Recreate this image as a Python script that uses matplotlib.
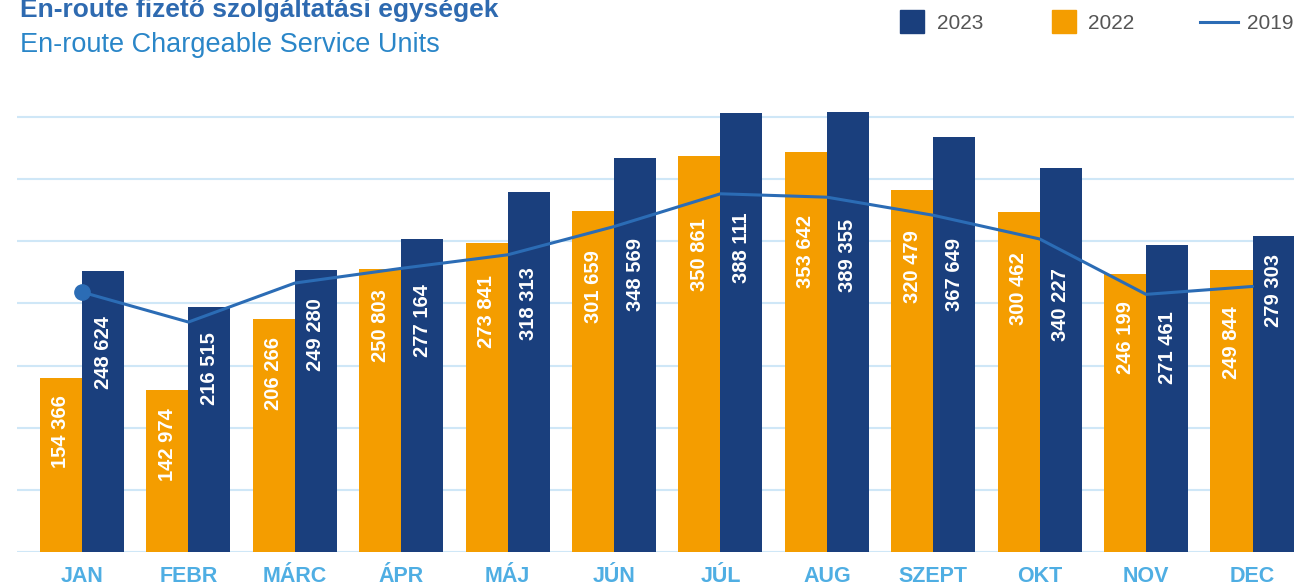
import numpy as np
import matplotlib.pyplot as plt
from matplotlib.patches import Rectangle
from matplotlib.lines import Line2D

# Data
months = ['JAN', 'FEBR', 'MÁRC', 'ÁPR', 'MÁJ', 'JÚN', 'JÚL', 'AUG', 'SZEPT', 'OKT', 'NOV', 'DEC']
units_2022 = [154366, 142974, 206266, 250803, 273841, 301659, 350861, 353642, 320479, 300462, 246199, 249844]
units_2023 = [248624, 216515, 249280, 277164, 318313, 348569, 388111, 389355, 367649, 340227, 271461, 279303]
units_2019 = [230000, 203500, 238000, 251000, 263000, 288000, 317000, 314000, 298000, 277000, 228000, 235000]

# Colours
NAVY = '#1A3F7D'
ORANGE = '#F49D00'
LINE = '#2B6CB5'
GRID = '#CFE7F7'
MONTH = '#4FAEE3'
narrow = ['Liberation Sans Narrow', 'Liberation Sans', 'DejaVu Sans']
sans = ['Liberation Sans', 'DejaVu Sans']

W, H = 1294, 588
fig = plt.figure(figsize=(W / 100, H / 100), dpi=100)
ax = fig.add_axes([17 / W, 36 / H, 1 - 17 / W, 452 / H])

x = np.arange(len(months))
bw = 0.395
ax.bar(x - bw / 2, units_2022, bw, color=ORANGE, zorder=2)
ax.bar(x + bw / 2, units_2023, bw, color=NAVY, zorder=2)
ax.plot(x, units_2019, color=LINE, lw=2.2, zorder=3, solid_capstyle='round')
ax.plot(x[:1], units_2019[:1], 'o', color=LINE, ms=11, zorder=4)

# value labels, kept below the 2019 line
for off, vals in ((-bw / 2, units_2022), (bw / 2, units_2023)):
    for xi, v in zip(x + off, vals):
        line_v = np.interp(xi, x, units_2019, left=np.inf, right=np.inf)
        ax.annotate(f'{v:,}'.replace(',', ' '), (xi, min(v, line_v)),
                    xytext=(0, -18), textcoords='offset pixels',
                    rotation=90, ha='center', va='top', color='white',
                    fontsize=14.5, fontweight='bold', family=narrow, zorder=5)

ax.set_xlim(-0.611, 11.39)
ax.set_ylim(0, 400000)
ax.set_yticks(np.arange(0, 400000, 55000))
ax.yaxis.grid(True, color=GRID, lw=1.5)
ax.set_axisbelow(True)
ax.tick_params(left=False, bottom=False, labelleft=False)
ax.set_xticks(x)
ax.set_xticklabels(months, fontsize=15.5, fontweight='bold', color=MONTH, family=narrow)
ax.tick_params(axis='x', pad=6.5)
for s in ax.spines.values():
    s.set_visible(False)

# titles
fig.text(20 / W, 1 - 17 / H, 'En-route fizető szolgáltatási egységek', va='baseline',
         fontsize=19, fontweight='bold', color='#2E6AB0', family=sans)
fig.text(20 / W, 1 - 52 / H, 'En-route Chargeable Service Units', va='baseline',
         fontsize=19.5, color='#2A86C8', family=sans)

# legend
fig.add_artist(Rectangle((900 / W, 1 - 33 / H), 24 / W, 23 / H, transform=fig.transFigure, color=NAVY))
fig.add_artist(Rectangle((1052 / W, 1 - 33 / H), 24 / W, 23 / H, transform=fig.transFigure, color=ORANGE))
fig.add_artist(Line2D([1200 / W, 1238 / W], [1 - 22 / H] * 2, transform=fig.transFigure, lw=2.2, color=LINE))
for lx, lab in ((937, '2023'), (1088, '2022'), (1247, '2019')):
    fig.text(lx / W, 1 - 29 / H, lab, va='baseline', fontsize=15, color='#555555', family=sans)

fig.savefig('out.png', dpi=100)
